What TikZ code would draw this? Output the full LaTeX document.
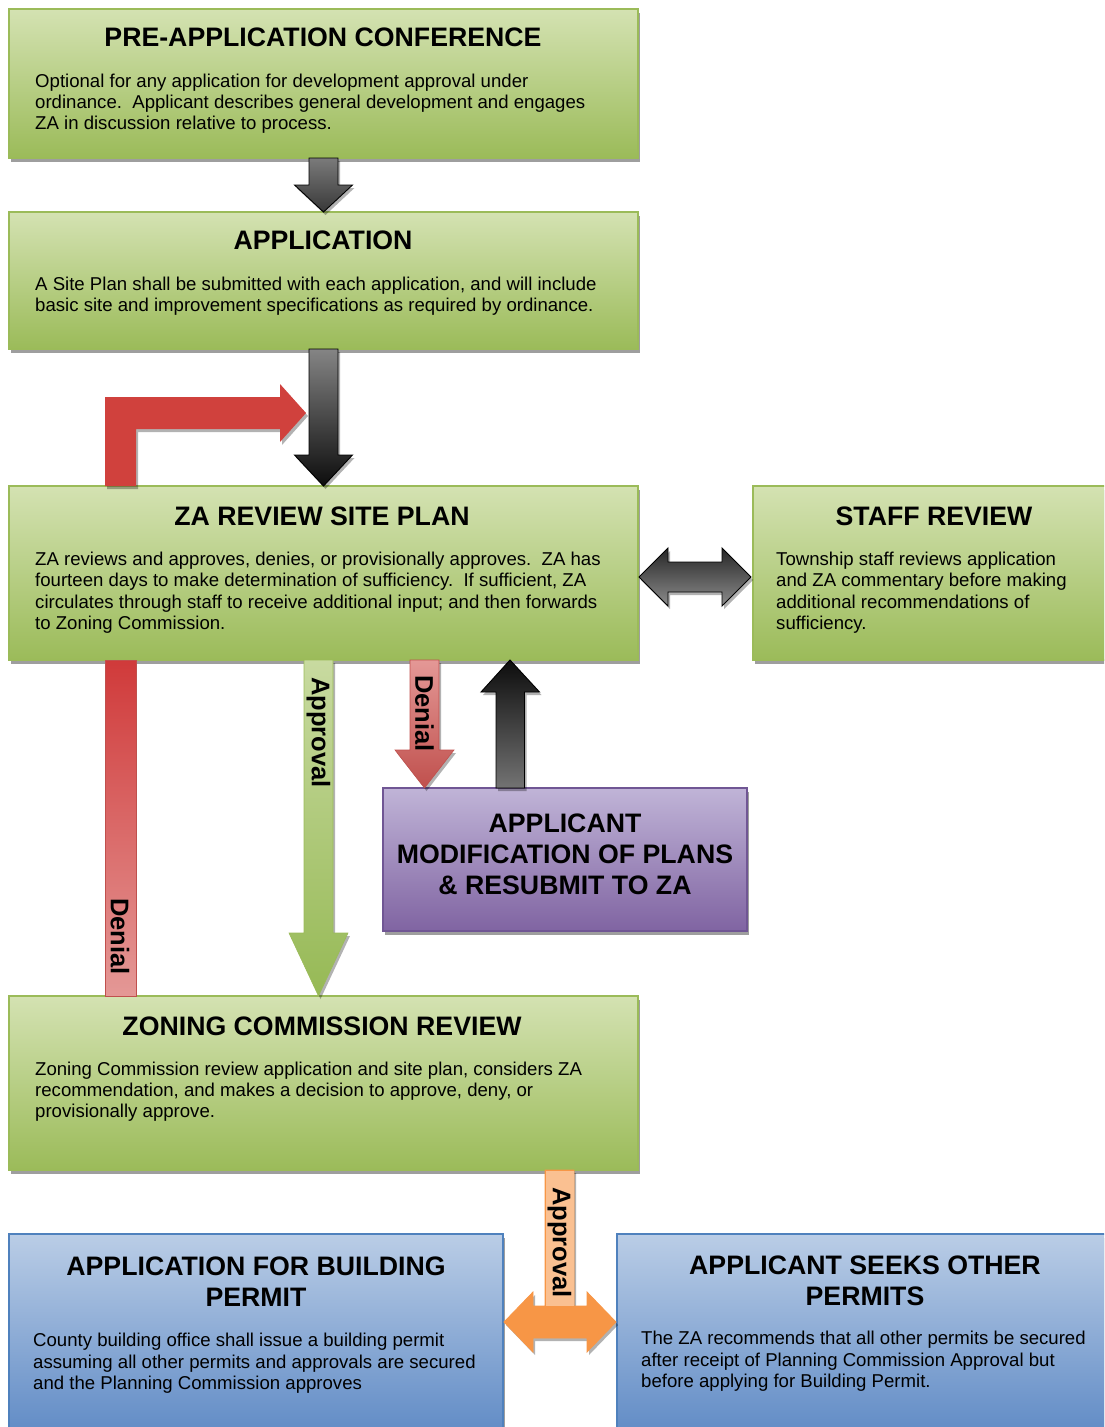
\documentclass[tikz,border=0pt]{standalone}
\usepackage{fontspec}
\setmainfont{Liberation Sans}
\usetikzlibrary{shadows,calc}
\definecolor{grnT}{RGB}{212,226,178}
\definecolor{grnB}{RGB}{155,187,89}
\definecolor{grnL}{RGB}{150,185,85}
\definecolor{bluT}{RGB}{186,205,230}
\definecolor{bluB}{RGB}{92,136,196}
\definecolor{bluL}{RGB}{79,129,189}
\definecolor{purT}{RGB}{192,180,215}
\definecolor{purB}{RGB}{128,100,162}
\definecolor{purL}{RGB}{112,86,148}
\definecolor{redS}{RGB}{208,65,61}
\definecolor{redT}{RGB}{208,58,58}
\definecolor{redP}{RGB}{228,152,150}
\definecolor{redL}{RGB}{192,80,77}
\definecolor{orgS}{RGB}{247,150,70}
\definecolor{orgL}{RGB}{250,192,145}
\definecolor{apT}{RGB}{200,218,160}
\begin{document}
\begin{tikzpicture}[x=1pt,y=-1pt,
  boxshadow/.style={drop shadow={shadow xshift=1.5pt,shadow yshift=-3.5pt,fill=black!38,opacity=1}},
  arrshadow/.style={drop shadow={shadow xshift=2pt,shadow yshift=-3pt,fill=black,opacity=.3}},
  box/.style={rectangle,inner sep=0,outer sep=0,line width=1.2pt,anchor=north west,boxshadow},
  greenbox/.style={box,draw=grnB,top color=grnT,bottom color=grnB},
  bluebox/.style={box,draw=bluL,top color=bluT,bottom color=bluB},
  purplebox/.style={box,draw=purL,top color=purT,bottom color=purB},
  ttl/.style={font=\fontsize{26.7}{31.3}\selectfont\bfseries,align=center,anchor=base,inner sep=0},
  body/.style={font=\fontsize{18.6}{21.3}\selectfont,align=left,anchor=base west,inner sep=0},
  lbl/.style={font=\fontsize{25.5}{30}\selectfont\bfseries,rotate=-90,inner sep=0},
  darkarrow/.style={draw=black,line width=0.9pt,line join=miter,arrshadow},
]
\useasboundingbox (0,0) rectangle (1104,1427);
\clip (0,0) rectangle (1104,1427);

% ---- boxes
\node[greenbox,minimum width=629pt,minimum height=149pt] (pre) at (9,9) {};
\node[greenbox,minimum width=629pt,minimum height=137pt] (app) at (9,212) {};
\node[greenbox,minimum width=629pt,minimum height=174pt] (za) at (9,486) {};
\node[greenbox,minimum width=370pt,minimum height=174pt] (staff) at (753,486) {};
\node[purplebox,minimum width=364pt,minimum height=143pt] (mod) at (383,788) {};
\node[greenbox,minimum width=629pt,minimum height=174pt] (zc) at (9,996) {};
\node[bluebox,minimum width=494pt,minimum height=210pt] (bld) at (9,1234) {};
\node[bluebox,minimum width=500pt,minimum height=210pt] (oth) at (617,1234) {};

% ---- texts (multi-line nodes are placed by the baseline of their last line)
\node[ttl] (preT) at (323,46.3) {PRE-APPLICATION CONFERENCE};
\node[body] (preB) at (35,129.8) {Optional for any application for development approval under\\ordinance.\ \ Applicant describes general development and engages\\ZA in discussion relative to process.};
\node[ttl] (appT) at (323,249.3) {APPLICATION};
\node[body] (appB) at (35,311.3) {A Site Plan shall be submitted with each application, and will include\\basic site and improvement specifications as required by ordinance.};
\node[ttl] (zaT) at (322,525.3) {ZA REVIEW SITE PLAN};
\node[body] (zaB) at (35,629.3) {ZA reviews and approves, denies, or provisionally approves.\ \ ZA has\\fourteen days to make determination of sufficiency.\ \ If sufficient, ZA\\circulates through staff to receive additional input; and then forwards\\to Zoning Commission.};
\node[ttl] (staffT) at (934,525.3) {STAFF REVIEW};
\node[body] (staffB) at (776,629.3) {Township staff reviews application\\and ZA commentary before making\\additional recommendations of\\sufficiency.};
\node[ttl] (modT) at (565,894.9) {APPLICANT\\MODIFICATION OF PLANS\\\& RESUBMIT TO ZA};
\node[ttl] (zcT) at (322,1035.3) {ZONING COMMISSION REVIEW};
\node[body] (zcB) at (35,1117.8) {Zoning Commission review application and site plan, considers ZA\\recommendation, and makes a decision to approve, deny, or\\provisionally approve.};
\node[ttl] (bldT) at (256,1306.3) {APPLICATION FOR BUILDING\\PERMIT};
\node[body] (bldB) at (33,1389.5) {County building office shall issue a building permit\\assuming all other permits and approvals are secured\\and the Planning Commission approves};
\node[ttl] (othT) at (865,1305.3) {APPLICANT SEEKS OTHER\\PERMITS};
\node[body] (othB) at (641,1387.5) {The ZA recommends that all other permits be secured\\after receipt of Planning Commission Approval but\\before applying for Building Permit.};

% ---- connectors
% pre -> app
\path[darkarrow,top color=black!52,bottom color=black!78]
  ([xshift=-14.5pt]pre.south) -- ++(29,0) -- ++(0,27) -- ++(14.5,0) -- (app.north) -- ++(-29,-27) -- ++(14.5,0) -- cycle;
% app -> za
\path[darkarrow,top color=black!48,bottom color=black!95]
  ([xshift=-14.5pt]app.south) -- ++(29,0) -- ++(0,106) -- ++(14.5,0) -- (za.north) -- ++(-29,-31) -- ++(14.5,0) -- cycle;
% red bent arrow (return into flow)
\path[fill=redS,arrshadow]
  ([xshift=96pt]za.north west) -- ++(0,-89) -- ++(175,0) -- ++(0,-13) -- ++(26,29) -- ++(-26,29) -- ++(0,-13) -- ++(-144,0) -- ++(0,57) -- cycle;
% long denial bar
\path[draw=redL,line width=0.8pt,top color=redT,bottom color=redP]
  ([xshift=96pt]za.south west) rectangle ([xshift=127pt]zc.north west);
\node[lbl] (den1) at (120,936.5) {Denial};
% approval za -> zc
\path[draw=grnB,line width=0.6pt,top color=apT,bottom color=grnL,arrshadow]
  ([xshift=-19.5pt]za.south) -- ++(29,0) -- ++(0,273) -- ++(15,0) -- ([xshift=-5pt]zc.north) -- ++(-29.5,-63) -- ++(15,0) -- cycle;
\node[lbl] (apr1) at (318.5,732.5) {Approval};
% denial za -> mod
\path[draw=redL,line width=0.6pt,top color=redP,bottom color=redL,arrshadow]
  ([xshift=86.5pt]za.south) -- ++(29,0) -- ++(0,90) -- ++(15,0) -- ([xshift=41.5pt]mod.north west) -- ++(-29.5,-38) -- ++(15,0) -- cycle;
\node[lbl] (den2) at (424.5,713.5) {Denial};
% mod -> za (resubmit)
\path[darkarrow,top color=black!95,bottom color=black!55]
  ([xshift=113pt]mod.north west) -- ++(0,-96) -- ++(-15,0) -- ([xshift=-128pt]za.south east) -- ++(29.5,32) -- ++(-15,0) -- ++(0,96) -- cycle;
% za <-> staff
\path[darkarrow,top color=black!85,bottom color=black!45]
  ([shift={(1,4)}]za.east) -- ++(29,-29) -- ++(0,14) -- ++(54,0) -- ++(0,-14) -- ([shift={(-2,4)}]staff.west) -- ++(-29,29) -- ++(0,-14) -- ++(-54,0) -- ++(0,14) -- cycle;
% zc -> permits (orange T)
\path[fill=orgS,draw=orgS,line width=0.8pt,arrshadow]
  ([xshift=221.5pt]zc.south) -- ++(29,0) -- ++(0,136) -- ++(13,0) -- ++(0,-14) -- ([shift={(-1,88)}]oth.north west) -- ++(-29,30) -- ++(0,-14) -- ++(-54,0) -- ++(0,14) -- ([shift={(1,88)}]bld.north east) -- ++(29,-30) -- ++(0,14) -- ++(12,0) -- cycle;
\fill[orgL] ([xshift=222pt,yshift=-1pt]zc.south) rectangle ++(28,135);
\node[lbl] (apr2) at (559.5,1242.5) {Approval};
\end{tikzpicture}
\end{document}
